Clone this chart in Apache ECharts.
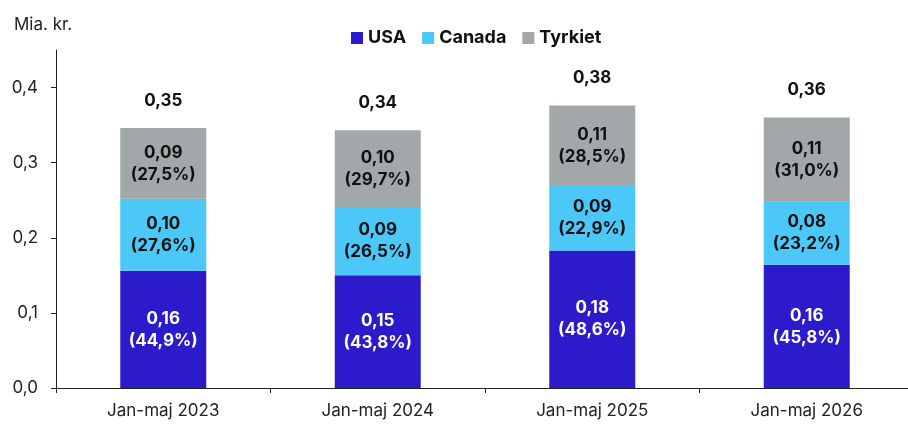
<!DOCTYPE html>
<html>
<head>
<meta charset="utf-8">
<script src="https://cdn.jsdelivr.net/npm/echarts@6/dist/echarts.min.js"></script>
<style>
  html, body { margin: 0; padding: 0; background: #fff; }
  #chart { width: 908px; height: 425px; }
</style>
</head>
<body>
<div id="chart"></div>
<script>
var categories = ['Jan-maj 2023', 'Jan-maj 2024', 'Jan-maj 2025', 'Jan-maj 2026'];
var usa     = [0.156, 0.150, 0.183, 0.164];
var canada  = [0.096, 0.091, 0.086, 0.084];
var tyrkiet = [0.094, 0.102, 0.107, 0.112];
// andele som vist i figuren
var usaPct     = ['44,9', '43,8', '48,6', '45,8'];
var canadaPct  = ['27,6', '26,5', '22,9', '23,2'];
var tyrkietPct = ['27,5', '29,7', '28,5', '31,0'];
var yTicks = [0, 0.1, 0.2, 0.3, 0.4];

var totals = usa.map(function (v, i) { return v + canada[i] + tyrkiet[i]; });

function fmt(v) { return v.toFixed(2).replace('.', ','); }

var font = 'Inter, "Noto Sans", sans-serif';

function inLabel(pct, color) {
    return {
        show: true,
        position: 'inside',
        color: color,
        fontFamily: font,
        fontWeight: 'bold',
        fontSize: 17,
        lineHeight: 22,
        formatter: function (p) { return fmt(p.value) + '\n(' + pct[p.dataIndex] + '%)'; }
    };
}

var myChart = echarts.init(document.getElementById('chart'));

var option = {
    animation: false,
    textStyle: { fontFamily: font },
    legend: {
        data: ['USA', 'Canada', 'Tyrkiet'],
        top: 24,
        left: 346,
        itemWidth: 12,
        itemHeight: 12,
        itemGap: 16,
        icon: 'rect',
        textStyle: { fontFamily: font, fontWeight: 'bold', fontSize: 18, color: '#111' }
    },
    graphic: [{
        type: 'text',
        left: 14,
        top: 16,
        style: { text: 'Mia. kr.', font: '17px ' + font, fill: '#222' }
    }],
    grid: { left: 56, top: 50, width: 858, height: 338, outerBoundsMode: 'none', containLabel: false },
    xAxis: {
        type: 'category',
        data: categories,
        axisLine: { lineStyle: { color: '#222', width: 1 } },
        axisTick: { show: true, length: 5, lineStyle: { color: '#222' } },
        axisLabel: { color: '#222', fontSize: 17, margin: 14, fontFamily: font }
    },
    yAxis: {
        type: 'value',
        min: 0,
        max: 0.45,
        interval: 0.1,
        splitLine: { show: false },
        axisLine: { show: true, lineStyle: { color: '#222', width: 1 } },
        axisTick: { show: true, length: 5, customValues: yTicks, lineStyle: { color: '#222' } },
        axisLabel: {
            color: '#222', fontSize: 17, margin: 18, fontFamily: font,
            customValues: yTicks,
            formatter: function (v) { return v.toFixed(1).replace('.', ','); }
        }
    },
    series: [
        {
            name: 'USA', type: 'bar', stack: 'a', barWidth: 86,
            itemStyle: { color: '#2B1BCB' },
            label: inLabel(usaPct, '#fff'),
            data: usa
        },
        {
            name: 'Canada', type: 'bar', stack: 'a', barWidth: 86,
            itemStyle: { color: '#4CC8F8' },
            label: inLabel(canadaPct, '#111'),
            data: canada
        },
        {
            name: 'Tyrkiet', type: 'bar', stack: 'a', barWidth: 86,
            itemStyle: { color: '#A2A7AA' },
            label: inLabel(tyrkietPct, '#111'),
            data: tyrkiet
        },
        {
            name: 'Total', type: 'bar', stack: 'a', barWidth: 86,
            itemStyle: { color: 'transparent' },
            label: {
                show: true, position: 'top', distance: 19,
                color: '#111', fontFamily: font, fontWeight: 'bold', fontSize: 17,
                formatter: function (p) { return fmt(totals[p.dataIndex]); }
            },
            data: totals.map(function () { return 0; })
        }
    ]
};

myChart.setOption(option);
</script>
</body>
</html>
